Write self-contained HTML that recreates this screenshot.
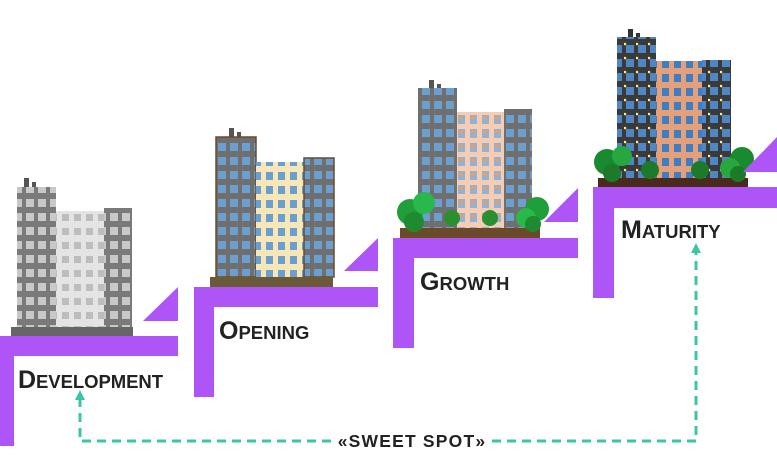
<!DOCTYPE html>
<html><head><meta charset="utf-8"><style>
body{margin:0;background:#fff;}
svg{display:block}
.lbl{font-family:"Liberation Sans",sans-serif;font-weight:bold;fill:#222;}
</style></head><body>
<svg width="777" height="476" viewBox="0 0 777 476" xmlns="http://www.w3.org/2000/svg">
<defs>
<pattern id="wg" x="0" y="0" width="12" height="14" patternUnits="userSpaceOnUse"><rect width="12" height="14" fill="#7a7a7a"/><rect x="2" y="3" width="8" height="8" fill="#c8c8c8"/></pattern>
<pattern id="wl" x="0" y="0" width="12" height="14" patternUnits="userSpaceOnUse"><rect width="12" height="14" fill="#e4e4e4"/><rect x="2" y="4" width="7" height="7" fill="#bdbdbd"/></pattern>
<pattern id="wb" x="0" y="0" width="12" height="14" patternUnits="userSpaceOnUse"><rect width="12" height="14" fill="#6f6f6f"/><rect x="2" y="3" width="8" height="8" fill="#6a9fd0"/></pattern>
<pattern id="wy" x="0" y="0" width="12" height="14" patternUnits="userSpaceOnUse"><rect width="12" height="14" fill="#f7e6b8"/><rect x="2" y="4" width="7" height="8" fill="#6a9fd0"/></pattern>
<pattern id="wp" x="0" y="0" width="12" height="14" patternUnits="userSpaceOnUse"><rect width="12" height="14" fill="#f6cdb3"/><rect x="2" y="3" width="7" height="9" fill="#8fb2d6"/><circle cx="5" cy="6" r="2" fill="#e0a070"/></pattern>
<pattern id="wd" x="0" y="0" width="12" height="14" patternUnits="userSpaceOnUse"><rect width="12" height="14" fill="#3a3a3a"/><rect x="2" y="3" width="8" height="8" fill="#4f86c6"/><circle cx="1" cy="2" r="1.3" fill="#ffec8a"/></pattern>
<pattern id="wo" x="0" y="0" width="12" height="14" patternUnits="userSpaceOnUse"><rect width="12" height="14" fill="#e3a07a"/><rect x="2" y="4" width="7" height="8" fill="#3f7ec4"/></pattern>
</defs>

<rect x="24" y="178" width="5" height="9" fill="#555"/><rect x="32" y="182" width="4" height="5" fill="#555"/>
<rect x="17" y="187" width="39" height="142" fill="url(#wg)"/>
<rect x="56" y="211" width="48" height="118" fill="url(#wl)"/>
<rect x="104" y="208" width="28" height="121" fill="url(#wg)"/>
<rect x="11" y="327" width="122" height="9" fill="#666"/>

<rect x="229" y="128" width="5" height="9" fill="#555"/><rect x="237" y="132" width="4" height="5" fill="#555"/>
<rect x="216" y="137" width="40" height="140" fill="url(#wb)" stroke="#6b4a2a" stroke-width="1.5"/>
<rect x="256" y="162" width="48" height="115" fill="url(#wy)"/>
<rect x="304" y="158" width="30" height="119" fill="url(#wb)" stroke="#6b4a2a" stroke-width="1.5"/>
<rect x="210" y="277" width="123" height="10" fill="#6b5a3a"/>

<rect x="429" y="80" width="5" height="9" fill="#555"/><rect x="437" y="84" width="4" height="5" fill="#555"/>
<rect x="418" y="88" width="39" height="145" fill="url(#wb)"/>
<rect x="457" y="112" width="47" height="121" fill="url(#wp)"/>
<rect x="504" y="109" width="28" height="124" fill="url(#wb)"/>
<rect x="400" y="228" width="140" height="10" fill="#6b4a2a"/>
<circle cx="410" cy="212" r="13" fill="#1f9e3a"/><circle cx="424" cy="203" r="11" fill="#2bb84a"/><circle cx="414" cy="222" r="10" fill="#1f8a30"/><circle cx="452" cy="218" r="8" fill="#2a8f30"/>
<circle cx="537" cy="209" r="12" fill="#1f9e3a"/><circle cx="526" cy="218" r="10" fill="#2bb84a"/><circle cx="533" cy="224" r="8" fill="#1f8a30"/><circle cx="490" cy="218" r="8" fill="#2a8f30"/>

<rect x="628" y="29" width="5" height="9" fill="#333"/><rect x="636" y="33" width="4" height="5" fill="#333"/>
<rect x="617" y="37" width="39" height="145" fill="url(#wd)"/>
<rect x="656" y="61" width="46" height="121" fill="url(#wo)"/>
<rect x="702" y="60" width="29" height="122" fill="url(#wd)"/>
<rect x="598" y="178" width="150" height="10" fill="#4a2a1a"/>
<circle cx="607" cy="162" r="13" fill="#1a8a30"/><circle cx="622" cy="156" r="10" fill="#26a83e"/><circle cx="612" cy="173" r="9" fill="#1c7a2a"/><circle cx="650" cy="170" r="9" fill="#1c7a2a"/>
<circle cx="742" cy="159" r="12" fill="#1a8a30"/><circle cx="730" cy="168" r="10" fill="#26a83e"/><circle cx="738" cy="174" r="8" fill="#1c7a2a"/><circle cx="700" cy="170" r="9" fill="#1c7a2a"/>

<g fill="#ae55f7">
<rect x="0" y="336" width="178" height="20"/><rect x="0" y="336" width="14" height="110"/>
<polygon points="143,321 178,287 178,321"/>
<rect x="194" y="287" width="184" height="20"/><rect x="194" y="287" width="20" height="110"/>
<polygon points="344,271 378,238 378,271"/>
<rect x="393" y="238" width="185" height="20"/><rect x="393" y="238" width="21" height="110"/>
<polygon points="544,222 578,188 578,222"/>
<rect x="593" y="187" width="184" height="21"/><rect x="593" y="187" width="21" height="111"/>
<polygon points="743,172 777,137 777,172"/>
</g>

<text class="lbl" x="18" y="388" font-size="18.5" textLength="145"><tspan font-size="25">D</tspan>EVELOPMENT</text>
<text class="lbl" x="219" y="339" font-size="18.5"><tspan font-size="25">O</tspan>PENING</text>
<text class="lbl" x="420" y="290" font-size="18.5"><tspan font-size="25">G</tspan>ROWTH</text>
<text class="lbl" x="621" y="238" font-size="18.5"><tspan font-size="25">M</tspan>ATURITY</text>

<g stroke="#3cc4a6" stroke-width="3" fill="none" stroke-dasharray="9,6">
<polyline points="80,398 80,441 332,441"/>
<polyline points="492,441 696,441 696,252"/>
</g>
<polygon points="75,400 80,390 85,400" fill="#3cc4a6"/>
<polygon points="691,253 696,243 701,253" fill="#3cc4a6"/>
<text class="lbl" x="412" y="447" font-size="17.5" text-anchor="middle" letter-spacing="1.2">«SWEET SPOT»</text>
</svg>
</body></html>
